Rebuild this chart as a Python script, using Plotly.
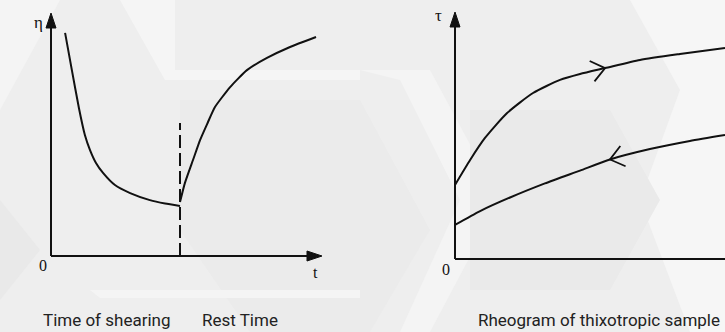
import math
import plotly.graph_objects as go

W, H = 725, 332

# ---------------- data (schematic) ----------------
# Left panel: viscosity eta vs time t (arbitrary units 0..10)
shear_t   = [0.52, 0.77, 1.03, 1.25, 1.44, 1.66, 1.92, 2.36, 2.92, 3.65, 4.21, 4.76]
shear_eta = [9.18, 7.65, 6.09, 4.98, 4.36, 3.83, 3.42, 2.92, 2.59, 2.30, 2.16, 2.06]
rest_t    = [4.76, 4.94, 5.24, 5.50, 5.76, 6.05, 6.61, 7.23, 7.97, 8.82, 9.78]
rest_eta  = [2.22, 3.00, 3.95, 4.77, 5.43, 6.13, 6.95, 7.65, 8.15, 8.60, 9.01]
rest_start_t = 4.76
rest_line_top = 5.47

# Right panel: shear stress tau vs shear rate (arbitrary units 0..10)
up_rate   = [0, 0.56, 1.11, 1.93, 2.89, 3.89, 4.63, 5.56, 6.85, 8.33, 10]
up_tau    = [3.00, 4.01, 4.90, 5.91, 6.72, 7.25, 7.49, 7.73, 8.06, 8.30, 8.54]
down_rate = [0, 0.93, 2.04, 3.33, 4.63, 5.74, 7.22, 8.70, 10]
down_tau  = [1.38, 1.94, 2.49, 3.06, 3.58, 4.03, 4.45, 4.78, 5.02]
up_arrow_idx = 7     # ">" mark on the up curve
down_arrow_idx = 5   # "<" mark on the down curve

captions = ["Time of shearing", "Rest Time", "Rheogram of thixotropic sample"]

# ---------------- geometry (pixels) ----------------
# left panel: origin (51,256), x tip at 322, y tip at 13
L = dict(x0=51, x10=322, y0=256, y10=13, xr=[-0.5, 10.5], yr=[-0.5, 10.4])
# right panel: origin (455,259), x=10 at 725, y tip at 12
R = dict(x0=455, x10=725, y0=259, y10=12, xr=[-0.5, 10.0], yr=[-0.5, 10.4])

def domains(g):
    sx = (g["x10"] - g["x0"]) / 10.0
    sy = (g["y0"] - g["y10"]) / 10.0
    xl = g["x0"] + g["xr"][0] * sx
    xh = g["x0"] + g["xr"][1] * sx
    yl = g["y0"] - g["yr"][0] * sy
    yh = g["y0"] - g["yr"][1] * sy
    return [xl / W, min(xh / W, 1)], [(H - yl) / H, min((H - yh) / H, 1)], sx, sy

Lxd, Lyd, Lsx, Lsy = domains(L)
Rxd, Ryd, Rsx, Rsy = domains(R)

fig = go.Figure()
LINE = dict(color="#111111", width=2)

def add_line(xs, ys, ax, shape="linear", dash=None, smoothing=None, width=2):
    ln = dict(LINE, shape=shape, width=width)
    if dash:
        ln["dash"] = dash
    if smoothing is not None:
        ln["smoothing"] = smoothing
    fig.add_trace(go.Scatter(x=xs, y=ys, mode="lines", line=ln,
                             xaxis=ax[0], yaxis=ax[1], hoverinfo="skip",
                             showlegend=False))

def add_head(tipx, tipy, direction, sx, sy, ax, length=15, half=5):
    # filled arrowhead, sizes in pixels converted through the axis scale
    if direction == "up":
        xs = [tipx, tipx - half / sx, tipx + half / sx, tipx]
        ys = [tipy, tipy - length / sy, tipy - length / sy, tipy]
    else:
        xs = [tipx, tipx - length / sx, tipx - length / sx, tipx]
        ys = [tipy, tipy + half / sy, tipy - half / sy, tipy]
    fig.add_trace(go.Scatter(x=xs, y=ys, mode="lines", fill="toself",
                             fillcolor="#111111", line=dict(color="#111111", width=1),
                             xaxis=ax[0], yaxis=ax[1], hoverinfo="skip",
                             showlegend=False))

def add_chevron(tx, ty, bx, by, sx, sy, ax, length=17, angle=38):
    # open chevron at (tx,ty); (bx,by) lies behind it along the curve
    dx, dy = (bx - tx) * sx, (by - ty) * sy   # pixel-space (y up)
    n = math.hypot(dx, dy)
    dx, dy = dx / n, dy / n
    xs, ys = [], []
    for sgn in (1, -1):
        a = math.radians(angle * sgn)
        ux = dx * math.cos(a) - dy * math.sin(a)
        uy = dx * math.sin(a) + dy * math.cos(a)
        xs.append(tx + ux * length / sx)
        ys.append(ty + uy * length / sy)
    add_line([xs[0], tx, xs[1]], [ys[0], ty, ys[1]], ax, width=1.8)

LA = ("x", "y")
RA = ("x2", "y2")

# left axes
add_line([0, 0], [0, 9.5], LA)
add_line([0, 9.5], [0, 0], LA)
add_head(0, 10, "up", Lsx, Lsy, LA)
add_head(10, 0, "right", Lsx, Lsy, LA)
# dashed rest marker
add_line([rest_start_t, rest_start_t], [0, rest_line_top], LA, dash="13px,5px")
# curves
add_line(shear_t, shear_eta, LA, shape="spline", smoothing=0.5)
add_line(rest_t, rest_eta, LA, shape="spline", smoothing=0.5)

# right axes
add_line([0, 0], [0, 9.5], RA)
add_line([0, 10], [0, 0], RA)
add_head(0, 10, "up", Rsx, Rsy, RA)
add_line(up_rate, up_tau, RA, shape="spline", smoothing=0.6)
add_line(down_rate, down_tau, RA, shape="spline", smoothing=0.6)

# direction chevrons
i = up_arrow_idx
add_chevron(up_rate[i], up_tau[i], up_rate[i - 1], up_tau[i - 1], Rsx, Rsy, RA)
j = down_arrow_idx
add_chevron(down_rate[j], down_tau[j], down_rate[j + 1], down_tau[j + 1], Rsx, Rsy, RA)

annotations = []

def ptext(txt, px, py, size, family, color="#111111", xanchor="center"):
    annotations.append(dict(x=px / W, y=1 - py / H, xref="paper", yref="paper",
                            text=txt, showarrow=False, xanchor=xanchor, yanchor="middle",
                            font=dict(family=family, size=size, color=color)))

SERIF = "Liberation Serif"
ptext("η", 38, 23, 17, SERIF)
ptext("0", 43, 265, 16, SERIF)
ptext("t", 315, 272, 16, SERIF)
ptext("τ", 438, 15, 17, SERIF)
ptext("0", 446, 269, 16, SERIF)

CAP = "Roboto"
ptext(captions[0], 106.5, 320, 17, CAP, color="#222222")
ptext(captions[1], 240, 320, 17, CAP, color="#222222")
ptext(captions[2], 598.5, 320, 17, CAP, color="#222222")

# subtle hexagon-like background pattern
def poly(pts, color):
    path = "M " + " L ".join(f"{x / W:.4f},{1 - y / H:.4f}" for x, y in pts) + " Z"
    return dict(type="path", path=path, xref="paper", yref="paper",
                fillcolor=color, line=dict(width=0), layer="below")

shapes = [
    poly([(0, 0), (60, 0), (0, 110)], "#f4f4f4"),
    poly([(120, 0), (175, 0), (175, 70), (360, 70), (360, 80), (165, 80), (120, 0)], "#f5f5f5"),
    poly([(180, 100), (360, 100), (430, 230), (370, 332), (250, 332), (180, 230)], "#ebebeb"),
    poly([(0, 200), (40, 250), (0, 300)], "#e9e9e9"),
    poly([(360, 70), (430, 70), (500, 200), (430, 332), (400, 332), (460, 200), (400, 80)], "#f4f4f4"),
    poly([(630, 0), (725, 0), (725, 332), (690, 332), (640, 200), (680, 90)], "#f6f6f6"),
    poly([(470, 110), (610, 110), (660, 200), (610, 290), (470, 290)], "#eaeaea"),
    poly([(90, 290), (360, 290), (360, 298), (100, 298)], "#f4f4f4"),
]

fig.update_layout(
    width=W, height=H, margin=dict(l=0, r=0, t=0, b=0),
    paper_bgcolor="#eeeeee", plot_bgcolor="rgba(0,0,0,0)",
    xaxis=dict(domain=Lxd, range=L["xr"], visible=False, fixedrange=True),
    yaxis=dict(domain=Lyd, range=L["yr"], visible=False, fixedrange=True),
    xaxis2=dict(domain=Rxd, range=R["xr"], visible=False, fixedrange=True, anchor="y2"),
    yaxis2=dict(domain=Ryd, range=R["yr"], visible=False, fixedrange=True, anchor="x2"),
    annotations=annotations, shapes=shapes, showlegend=False,
)

fig.write_html("out.html", config={"displayModeBar": False},
               post_script="document.body.style.margin='0px';document.body.style.overflow='hidden';")
